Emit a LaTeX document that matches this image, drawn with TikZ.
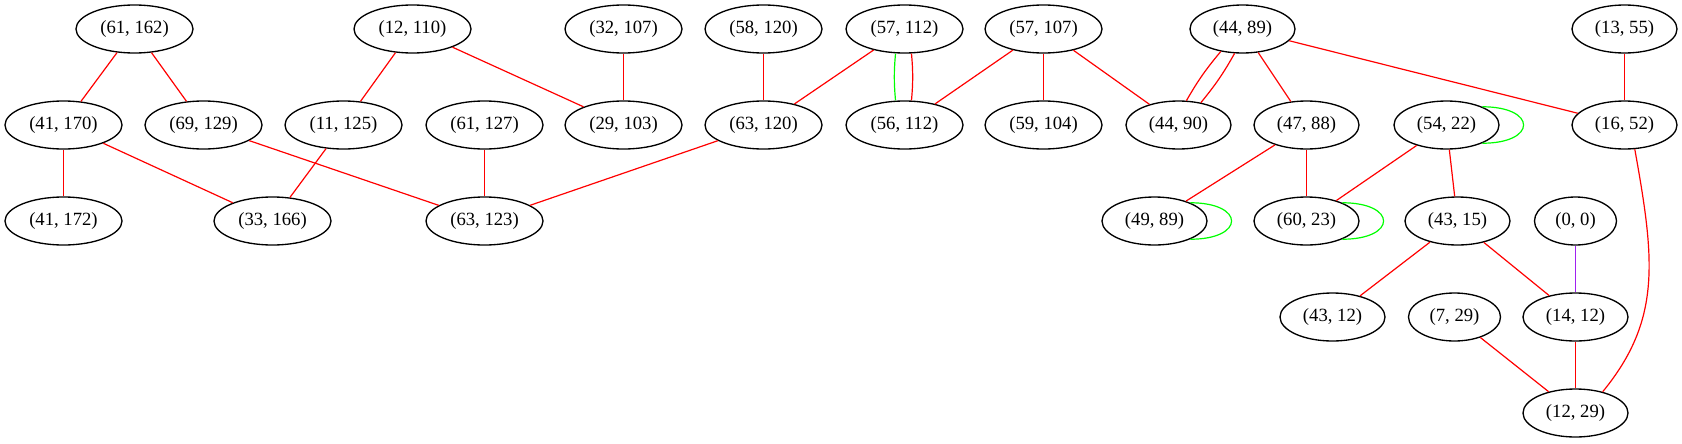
\documentclass[tikz,border=0pt]{standalone}
\usepackage{fontspec}
\setmainfont{Liberation Serif}
\usetikzlibrary{shapes.geometric}
\definecolor{gvred}{RGB}{255,0,0}
\definecolor{gvgreen}{RGB}{0,255,0}
\definecolor{gvpurple}{RGB}{160,32,240}
\begin{document}
\begin{tikzpicture}[x=0.75pt, y=-0.75pt,
  vtx/.style={ellipse, draw, line width=1pt, inner sep=0pt, minimum height=36pt, font=\fontsize{14}{16}\selectfont},
  redge/.style={gvred, line width=0.9pt},
  gedge/.style={gvgreen, line width=0.9pt},
  pedge/.style={gvpurple, line width=0.9pt}]

  \useasboundingbox (0,0) rectangle (1682,443);

  % Vertices: name / x / y / width / label
  \foreach \nm/\x/\y/\w/\lab in {
    s61162/134/29/87.75/{(61, 162)}, s12110/412/29/87.75/{(12, 110)},
    s32107/623/29/87.75/{(32, 107)}, s58120/763/29/87.75/{(58, 120)},
    s57112/904/29/87.75/{(57, 112)}, s57107/1043/29/87.75/{(57, 107)},
    s4489/1242/29/78.75/{(44, 89)}, s1355/1624/29/78.75/{(13, 55)},
    s41170/63/125/87.75/{(41, 170)}, s69129/203/125/87.75/{(69, 129)},
    s11125/343/125/87.75/{(11, 125)}, s61127/484/125/87.75/{(61, 127)},
    s29103/623/125/87.75/{(29, 103)}, s63120/763/125/87.75/{(63, 120)},
    s56112/904/125/87.75/{(56, 112)}, s59104/1043/125/87.75/{(59, 104)},
    s4490/1178/125/78.75/{(44, 90)}, s4788/1306/125/78.75/{(47, 88)},
    s5422/1446/125/78.75/{(54, 22)}, s1652/1624/125/78.75/{(16, 52)},
    s41172/63/221/87.75/{(41, 172)}, s33166/272/221/87.75/{(33, 166)},
    s63123/484/221/87.75/{(63, 123)}, s4989/1154/221/78.75/{(49, 89)},
    s6023/1306/221/78.75/{(60, 23)}, s4315/1457/221/78.75/{(43, 15)},
    s00/1575/221/61.5/{(0, 0)},
    s4312/1332/317/78.75/{(43, 12)}, s729/1454/317/69/{(7, 29)},
    s1412/1575/317/78.75/{(14, 12)},
    s1229/1575/413/78.75/{(12, 29)}}
  {
    \node[vtx, minimum width=\w pt] (\nm) at (\x+0.5,\y) {\lab};
  }

  % Red edges
  \foreach \a/\b in {s61162/s41170, s61162/s69129, s12110/s11125, s12110/s29103,
    s32107/s29103, s58120/s63120, s57112/s63120, s57107/s56112, s57107/s59104,
    s57107/s4490, s4489/s4788, s4489/s1652, s1355/s1652, s41170/s41172,
    s41170/s33166, s69129/s63123, s11125/s33166, s61127/s63123, s63120/s63123,
    s4788/s4989, s4788/s6023, s5422/s6023, s5422/s4315, s4315/s4312,
    s4315/s1412, s729/s1229, s1412/s1229}
  {
    \draw[redge] (\a) -- (\b);
  }

  % Double edges
  \draw[redge] (s4489.-134) to[bend right=5] (s4490.72);
  \draw[redge] (s4489.-108) to[bend left=5] (s4490.45);
  \draw[gedge] ([xshift=-6.75pt]s57112.south) to[bend right=5] ([xshift=-6.75pt]s56112.north);
  \draw[redge] ([xshift=5.25pt]s57112.south) to[bend left=5] ([xshift=5.25pt]s56112.north);

  \draw[redge] (s1652.-67) .. controls +(20,111) and +(59,-72) .. (s1229.38); % Long curve
  \draw[pedge] (s00) -- (s1412);

  % Self loops
  \foreach \nm in {s5422, s4989, s6023}
  {
    \draw[gedge] (\nm.27) .. controls +(55,0) and +(55,0) .. (\nm.-27);
  }

\end{tikzpicture}
\end{document}
